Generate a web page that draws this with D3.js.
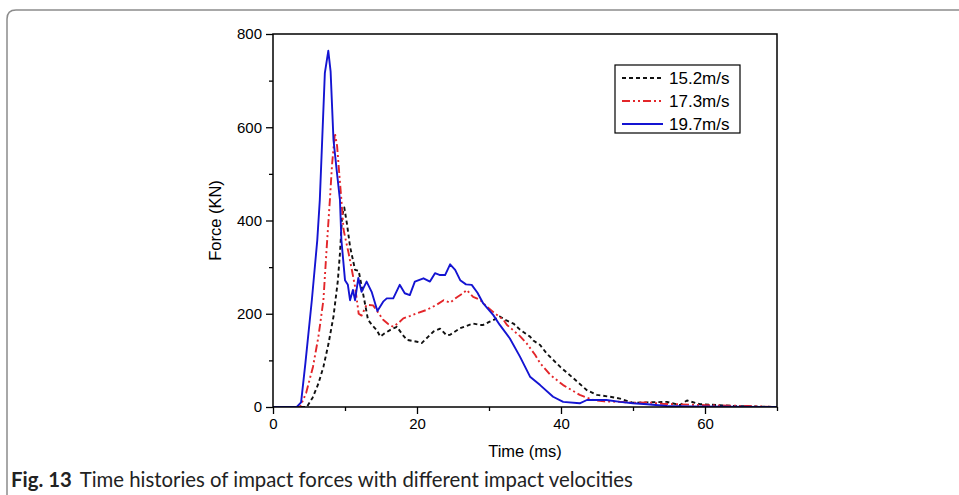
<!DOCTYPE html>
<html>
<head>
<meta charset="utf-8">
<script src="https://cdn.jsdelivr.net/npm/d3@7/dist/d3.min.js"></script>
<style>
  html, body { margin: 0; padding: 0; background: #fff; }
  svg { display: block; }
</style>
</head>
<body>
<svg id="chart" width="959" height="495"></svg>
<script>
// ---------- DATA ----------
const seriesNames = ["15.2m/s", "17.3m/s", "19.7m/s"];

const time152 = [0,4.7,5.5,6.3,7,7.7,8.4,9.0,9.3,9.6,9.9,10.3,10.7,11.4,11.9,12.5,13.2,13.8,14.4,14.9,15.5,16.25,17.2,18,18.6,20,20.65,21.5,22.3,23.2,24.1,24.6,26,27.8,28.75,29.2,30.1,31.1,31.5,32.5,33.4,34.3,35.7,36.2,37.1,38,39.9,41.7,43.6,45,46.8,48.2,50,52,54.7,56.5,57.5,59.3,62,64,70];
const force152 = [0,0,20,50,86,135,194,270,330,410,428,390,344,294,292,244,187,175,165,151,158,165,172,155,144,140,137,150,162,168,154,155,169,179,176,176,183,190,194,185,179,166,151,142,133,115,86,62,36,26,22,18,9,10,11,4,14,6,4,2,0];

const time173 = [0,3.75,4.6,5.55,6.3,7,7.45,7.9,8.2,8.6,8.9,9.2,9.5,9.8,10.5,11.0,11.4,11.9,12.3,13.0,13.9,14.5,15.3,16.0,16.7,17.4,18.1,19,20,21.3,22.7,23.7,24.6,25.5,26.4,26.9,27.8,28.75,29.7,30.8,32,32.5,34.3,35.2,36.4,37.1,38.5,40.3,42.6,44.5,46,48.2,50,52,54,56,58,60,63,66,70];
const force173 = [0,0,30,86,150,229,340,444,520,587,560,501,444,380,330,290,258,200,196,219,218,205,187,178,172,180,190,195,201,208,219,229,224,235,244,251,236,230,215,201,187,176,152,137,112,94,69,47,26,15,12,11,9,10,7,6,5,4,3,2,0];

const time197 = [0,3.3,3.9,4.5,5.4,6.15,6.5,7.2,7.68,8.0,8.4,8.9,9.3,9.5,10,10.4,10.7,11.1,11.4,11.85,12.3,13,13.7,14.5,15.3,15.8,16.7,17.6,18.3,19,19.7,20.9,21.8,22.5,23.2,23.9,24.6,25.3,26,26.8,27.6,28.4,29.2,30.6,31.5,32.9,34.3,35.7,37.1,38.9,40.3,42.6,43.6,46.3,48.2,50,52,54.7,58,70];
const force197 = [0,0,10,94,230,358,444,716,764,720,573,500,444,358,272,262,229,251,229,277,247,269,247,206,226,233,233,262,244,240,269,276,269,287,283,283,306,294,272,263,262,245,222,197,176,147,108,65,47,22,11,8,15,15,11,8,6,2,1,0];

const xTicks = [0, 20, 40, 60];
const xMinorTicks = [10, 30, 50, 70];
const yTicks = [0, 200, 400, 600, 800];
const yMinorTicks = [100, 300, 500, 700];

const xTitle = "Time (ms)";
const yTitle = "Force (KN)";
const captionBold = "Fig. 13";
const captionText = "Time histories of impact forces with different impact velocities";

// ---------- LAYOUT ----------
const svg = d3.select("#chart");
const L = 273, R = 777, T = 34, B = 407;
const x = d3.scaleLinear().domain([0, 70]).range([L, R]);
const y = d3.scaleLinear().domain([0, 800]).range([B, T]);

// card border
svg.append("path")
  .attr("d", "M7,500 L7,19 Q7,10 16,10 L962,10")
  .attr("fill", "none").attr("stroke", "#8c8c8c").attr("stroke-width", 1.5);

const styles = [
  { color: "#111111", dash: "4,3", width: 1.9 },
  { color: "#e3262a", dash: "8,3,2,3,2,3", width: 1.9 },
  { color: "#1414d2", dash: null, width: 1.9 }
];
const data = [
  d3.zip(time152, force152),
  d3.zip(time173, force173),
  d3.zip(time197, force197)
];

svg.append("defs").append("clipPath").attr("id", "clip")
  .append("rect").attr("x", L).attr("y", T - 2).attr("width", R - L).attr("height", B - T + 2);

const line = d3.line().x(d => x(d[0])).y(d => y(d[1]));

const g = svg.append("g").attr("clip-path", "url(#clip)");
data.forEach((d, i) => {
  g.append("path").datum(d)
    .attr("d", line)
    .attr("fill", "none")
    .attr("stroke", styles[i].color)
    .attr("stroke-width", styles[i].width)
    .attr("stroke-linejoin", "round")
    .attr("stroke-dasharray", styles[i].dash);
});

// axes
const font = "'Liberation Sans', Arial, sans-serif";
const xAxis = d3.axisBottom(x).tickValues(xTicks).tickSize(7).tickPadding(4).tickFormat(d3.format("d"));
const xAxisMinor = d3.axisBottom(x).tickValues(xMinorTicks).tickSize(4).tickFormat("");
const yAxis = d3.axisLeft(y).tickValues(yTicks).tickSize(7).tickPadding(4).tickFormat(d3.format("d"));
const yAxisMinor = d3.axisLeft(y).tickValues(yMinorTicks).tickSize(4).tickFormat("");

function styleAxis(sel) {
  sel.select(".domain").remove();
  sel.selectAll("line").attr("stroke", "#000").attr("stroke-width", 1.3);
  sel.selectAll("text").attr("font-family", font).attr("font-size", 15).attr("fill", "#000");
}
svg.append("g").attr("transform", `translate(0,${B})`).call(xAxis).call(styleAxis);
svg.append("g").attr("transform", `translate(0,${B})`).call(xAxisMinor).call(styleAxis);
svg.append("g").attr("transform", `translate(${L},0)`).call(yAxis).call(styleAxis);
svg.append("g").attr("transform", `translate(${L},0)`).call(yAxisMinor).call(styleAxis);

// frame
svg.append("rect").attr("x", L).attr("y", T).attr("width", R - L).attr("height", B - T)
  .attr("fill", "none").attr("stroke", "#000").attr("stroke-width", 1.5);

// axis titles
svg.append("text").attr("x", (L + R) / 2).attr("y", 457)
  .attr("text-anchor", "middle").attr("font-family", font).attr("font-size", 16.5)
  .text(xTitle);
svg.append("text").attr("transform", `translate(221,${(T + B) / 2}) rotate(-90)`)
  .attr("text-anchor", "middle").attr("font-family", font).attr("font-size", 16.5)
  .text(yTitle);

// legend
const lg = svg.append("g");
lg.append("rect").attr("x", 615).attr("y", 65).attr("width", 125).attr("height", 68)
  .attr("fill", "#fff").attr("stroke", "#000").attr("stroke-width", 1.2);
seriesNames.forEach((name, i) => {
  const yy = 78 + i * 23;
  lg.append("line").attr("x1", 622).attr("x2", 663).attr("y1", yy).attr("y2", yy)
    .attr("stroke", styles[i].color).attr("stroke-width", styles[i].width)
    .attr("stroke-dasharray", styles[i].dash);
  lg.append("text").attr("x", 669).attr("y", yy + 6)
    .attr("font-family", font).attr("font-size", 17).text(name);
});

// caption
const cap = svg.append("text").attr("x", 11).attr("y", 487)
  .attr("font-family", "Lato, 'Open Sans', sans-serif").attr("font-size", 18).attr("fill", "#222");
cap.append("tspan").attr("font-weight", "bold").text(captionBold);
cap.append("tspan").attr("dx", 8).text(captionText);
const w = cap.node().getComputedTextLength();
cap.attr("font-size", 18 * 614 / w);
</script>
</body>
</html>
